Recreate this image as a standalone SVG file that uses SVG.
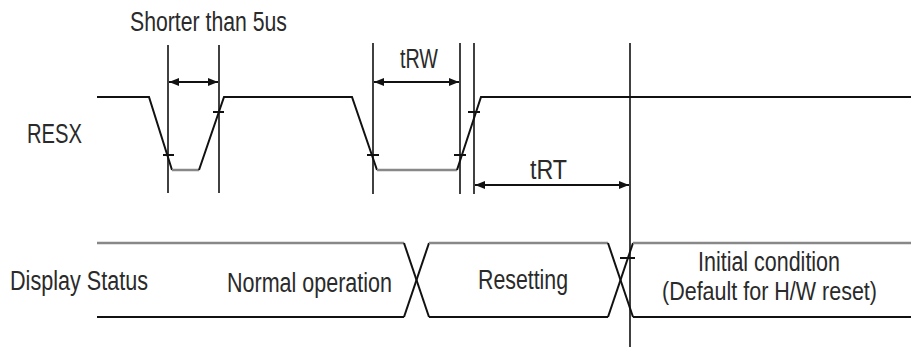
<svg xmlns="http://www.w3.org/2000/svg" width="911" height="347" viewBox="0 0 911 347">
<defs>
<marker id="ah" viewBox="0 0 10 10" refX="10" refY="5" markerWidth="10" markerHeight="10" markerUnits="userSpaceOnUse" orient="auto-start-reverse">
<path d="M0,1 L10,5 L0,9 Z" fill="#111"/>
</marker>
<style>
.t{font-family:"Liberation Sans",Arial,sans-serif;font-size:27px;fill:#2a2a2a;}
.m{text-anchor:middle;}
.n{font-size:25px;}
.s{stroke:#111;stroke-width:2;fill:none;}
.g{stroke:#888;stroke-width:2.5;fill:none;}
.v{stroke:#111;stroke-width:1.6;fill:none;}
.a{stroke:#111;stroke-width:2;fill:none;marker-start:url(#ah);marker-end:url(#ah);}
</style>
</defs>
<rect width="911" height="347" fill="#fff"/>
<g id="labels">
<text class="t" x="130" y="31" textLength="157" lengthAdjust="spacingAndGlyphs">Shorter than 5us</text>
<text class="t" x="27" y="143" textLength="55" lengthAdjust="spacingAndGlyphs">RESX</text>
<text class="t" x="10" y="290" textLength="138" lengthAdjust="spacingAndGlyphs">Display Status</text>
</g>
<g id="resx">
<polyline class="s" points="97,97 149,97 172,170"/>
<line class="g" x1="172" y1="170" x2="199" y2="170"/>
<polyline class="s" points="199,170 224,97 352,97 377,170"/>
<line class="g" x1="377" y1="170" x2="457" y2="170"/>
<polyline class="s" points="457,170 481,97 911,97"/>
</g>
<g id="status">
<line class="g" x1="97" y1="243" x2="404" y2="243"/>
<line class="s" x1="97" y1="317" x2="404" y2="317"/>
<line class="s" x1="404" y1="243" x2="429" y2="317"/>
<line class="s" x1="404" y1="317" x2="429" y2="243"/>
<line class="g" x1="429" y1="243" x2="608" y2="243"/>
<line class="s" x1="429" y1="317" x2="608" y2="317"/>
<line class="s" x1="608" y1="243" x2="633" y2="317"/>
<line class="s" x1="608" y1="317" x2="633" y2="243"/>
<line class="g" x1="633" y1="243" x2="911" y2="243"/>
<line class="s" x1="633" y1="317" x2="911" y2="317"/>
<text class="t m" x="309.5" y="292" textLength="165" lengthAdjust="spacingAndGlyphs">Normal operation</text>
<text class="t m" x="523" y="289" textLength="90" lengthAdjust="spacingAndGlyphs">Resetting</text>
<text class="t m" x="769" y="271" textLength="142" lengthAdjust="spacingAndGlyphs">Initial condition</text>
<text class="t m n" x="769.5" y="300" textLength="215" lengthAdjust="spacingAndGlyphs">(Default for H/W reset)</text>
</g>
<g id="timing">
<line class="v" x1="168" y1="45" x2="168" y2="193"/>
<line class="v" x1="219" y1="45" x2="219" y2="193"/>
<line class="v" x1="373" y1="43" x2="373" y2="194"/>
<line class="v" x1="460" y1="43" x2="460" y2="194"/>
<line class="v" x1="474" y1="43" x2="474" y2="194"/>
<line class="v" x1="630" y1="43" x2="630" y2="347"/>
<line class="s" x1="163" y1="155" x2="174" y2="155"/>
<line class="s" x1="213" y1="112" x2="224" y2="112"/>
<line class="s" x1="367" y1="155" x2="379" y2="155"/>
<line class="s" x1="454" y1="155" x2="466" y2="155"/>
<line class="s" x1="468" y1="112" x2="480" y2="112"/>
<line class="s" x1="620" y1="258" x2="635" y2="258"/>
<line class="a" x1="169" y1="82" x2="218" y2="82"/>
<line class="a" x1="374" y1="82" x2="459" y2="82"/>
<line class="a" x1="475" y1="185" x2="629" y2="185"/>
<text class="t" x="400" y="68" textLength="38" lengthAdjust="spacingAndGlyphs">tRW</text>
<text class="t" x="530" y="179" textLength="37" lengthAdjust="spacingAndGlyphs">tRT</text>
</g>
</svg>
